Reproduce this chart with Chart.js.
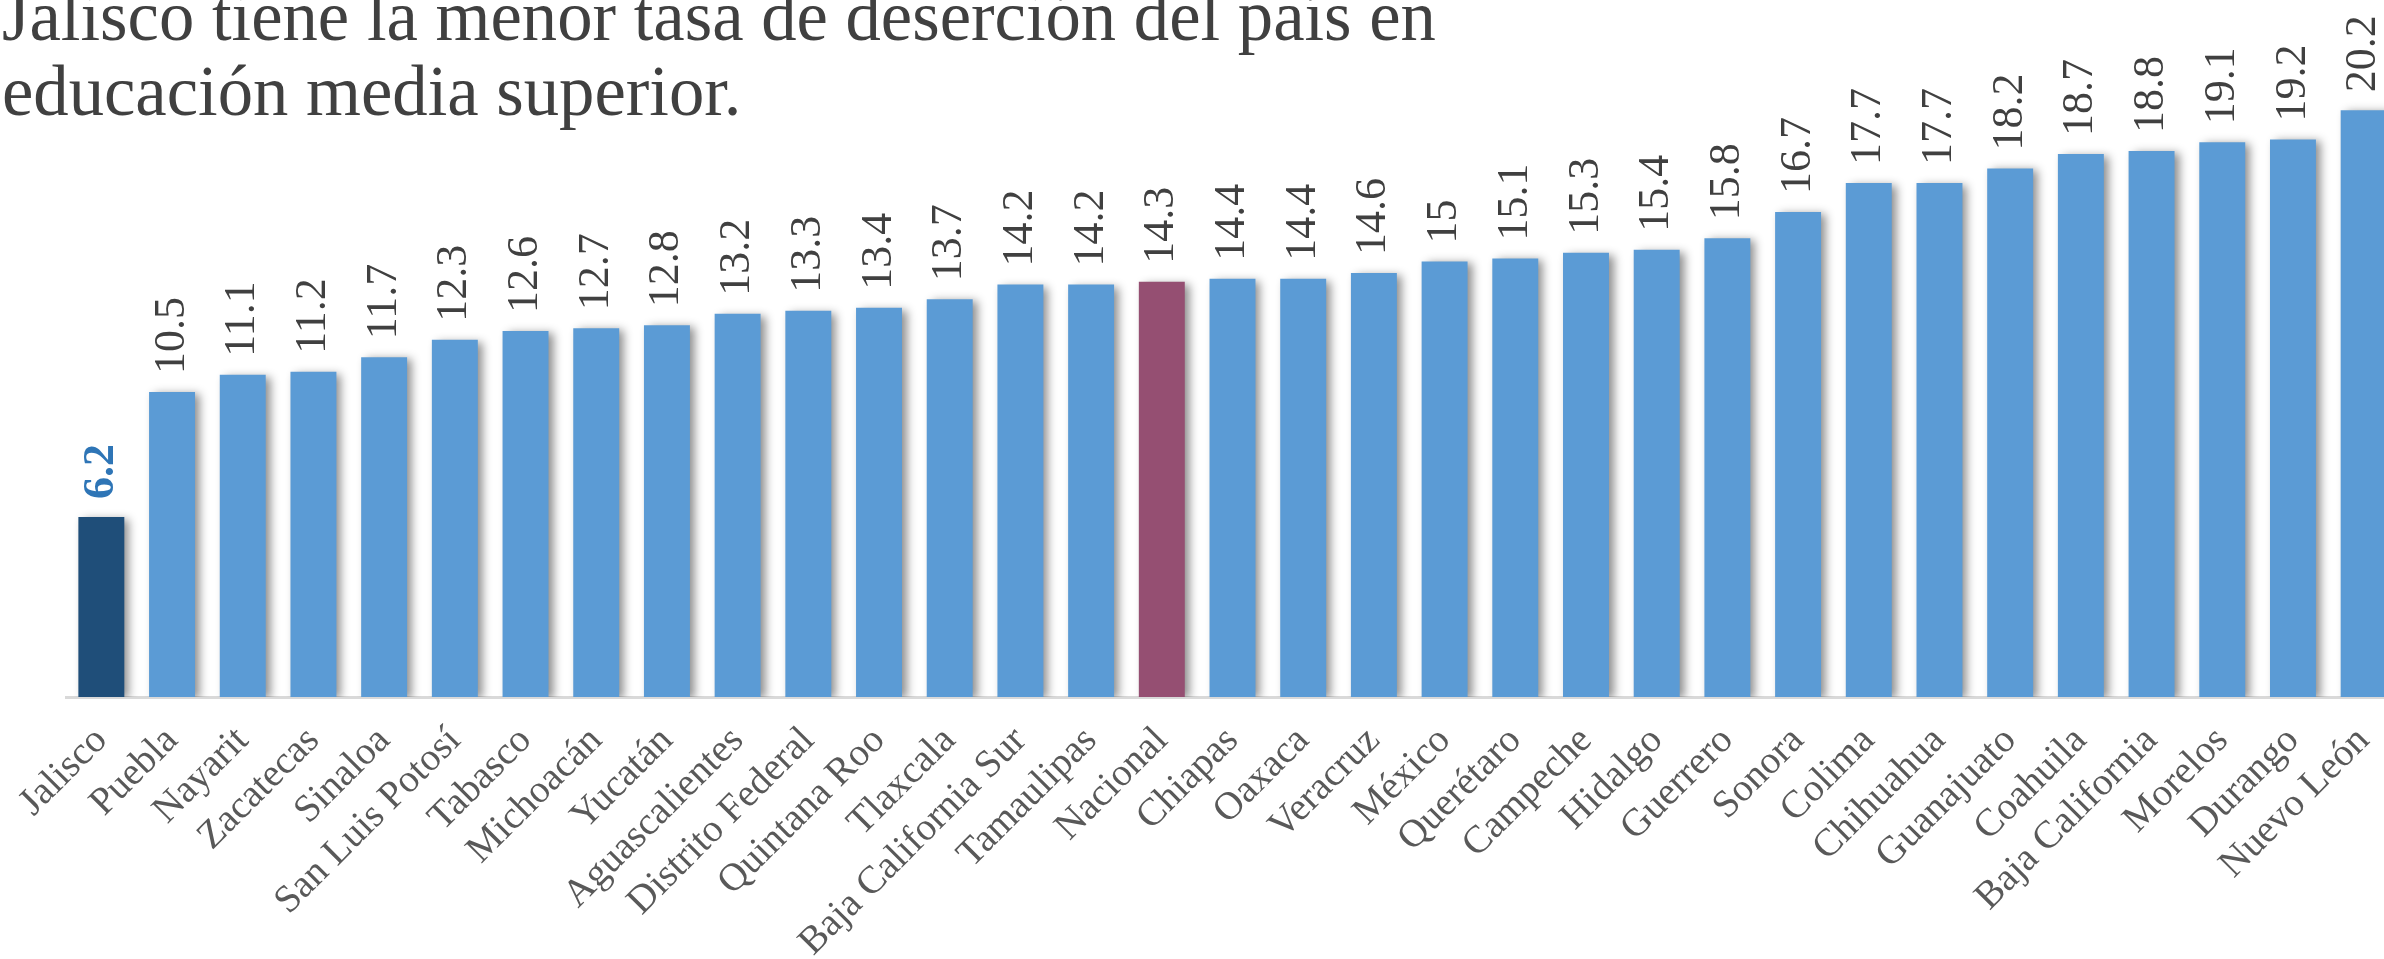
<!DOCTYPE html>
<html>
<head>
<meta charset="utf-8">
<script src="https://cdn.jsdelivr.net/npm/chart.js@4"></script>
<style>
    html, body { margin: 0; padding: 0; background: #fff; overflow: hidden; }
    #wrap { position: relative; width: 2400px; height: 959px; }
    #title {
        position: absolute; left: 2px; top: -21px; z-index: 2;
        font-family: "Liberation Serif", serif; font-size: 71px; line-height: 75px;
        color: #404040; white-space: nowrap;
        transform: scaleX(0.995); transform-origin: left top;
    }
</style>
</head>
<body>
<div id="wrap">
    <div id="title">Jalisco tiene la menor tasa de deserción del país en<br>educación media superior.</div>
    <canvas id="chart"></canvas>
</div>
<script>
const categories = ['Jalisco', 'Puebla', 'Nayarit', 'Zacatecas', 'Sinaloa', 'San Luis Potosí', 'Tabasco',
    'Michoacán', 'Yucatán', 'Aguascalientes', 'Distrito Federal', 'Quintana Roo', 'Tlaxcala',
    'Baja California Sur', 'Tamaulipas', 'Nacional', 'Chiapas', 'Oaxaca', 'Veracruz', 'México',
    'Querétaro', 'Campeche', 'Hidalgo', 'Guerrero', 'Sonora', 'Colima', 'Chihuahua', 'Guanajuato',
    'Coahuila', 'Baja California', 'Morelos', 'Durango', 'Nuevo León'];
const tasaDesercion = [6.2, 10.5, 11.1, 11.2, 11.7, 12.3, 12.6, 12.7, 12.8, 13.2, 13.3, 13.4, 13.7,
    14.2, 14.2, 14.3, 14.4, 14.4, 14.6, 15, 15.1, 15.3, 15.4, 15.8, 16.7, 17.7, 17.7, 18.2,
    18.7, 18.8, 19.1, 19.2, 20.2];

const SERIF = '"Liberation Serif", serif';

// pick a colour per bar: Jalisco and the national average stand out
function barColor(name) {
    if (name === 'Jalisco') return '#1F4E79';
    if (name === 'Nacional') return '#954F72';
    return '#5B9BD5';
}

// soft shadow to the lower right of every bar
const barShadow = {
    id: 'barShadow',
    beforeDatasetsDraw(chart) {
        const ctx = chart.ctx;
        ctx.save();
        ctx.shadowColor = 'rgba(0,0,0,0.45)';
        ctx.shadowBlur = 9;
        ctx.shadowOffsetX = 5;
        ctx.shadowOffsetY = 2;
    },
    afterDatasetsDraw(chart) {
        chart.ctx.restore();
    }
};

// vertical value labels above each bar
const valueLabels = {
    id: 'valueLabels',
    afterDatasetsDraw(chart) {
        const ctx = chart.ctx;
        const meta = chart.getDatasetMeta(0);
        meta.data.forEach((bar, i) => {
            const first = i === 0;
            ctx.save();
            ctx.translate(bar.x, bar.y - 18);
            ctx.rotate(-Math.PI / 2);
            ctx.font = (first ? 'bold ' : '') + '44px ' + SERIF;
            ctx.fillStyle = first ? '#2E75B6' : '#404040';
            ctx.textAlign = 'left';
            ctx.textBaseline = 'middle';
            ctx.fillText(String(tasaDesercion[i]), 0, 0);
            ctx.restore();
        });
    }
};

const chart = new Chart(document.getElementById('chart'), {
    type: 'bar',
    data: {
        labels: categories,
        datasets: [{
            data: tasaDesercion,
            backgroundColor: categories.map(barColor),
            borderWidth: 0,
            categoryPercentage: 1,
            barPercentage: 0.65
        }]
    },
    options: {
        responsive: true,
        maintainAspectRatio: false,
        animation: false,
        layout: { padding: { left: 66, right: 1, top: 0, bottom: 0 } },
        plugins: {
            legend: { display: false },
            tooltip: { enabled: false }
        },
        scales: {
            x: {
                grid: { display: false },
                border: { display: true, color: '#D9D9D9', width: 3 },
                ticks: {
                    autoSkip: false,
                    maxRotation: 45,
                    minRotation: 45,
                    padding: 13,
                    color: '#595959',
                    font: { family: SERIF, size: 39 }
                },
                afterFit(scale) {
                    scale.height = 262;
                    scale.paddingLeft = 0;
                    scale.paddingRight = 0;
                }
            },
            y: {
                display: false,
                min: 0,
                max: 24
            }
        }
    },
    plugins: [barShadow, valueLabels]
});
</script>
</body>
</html>
